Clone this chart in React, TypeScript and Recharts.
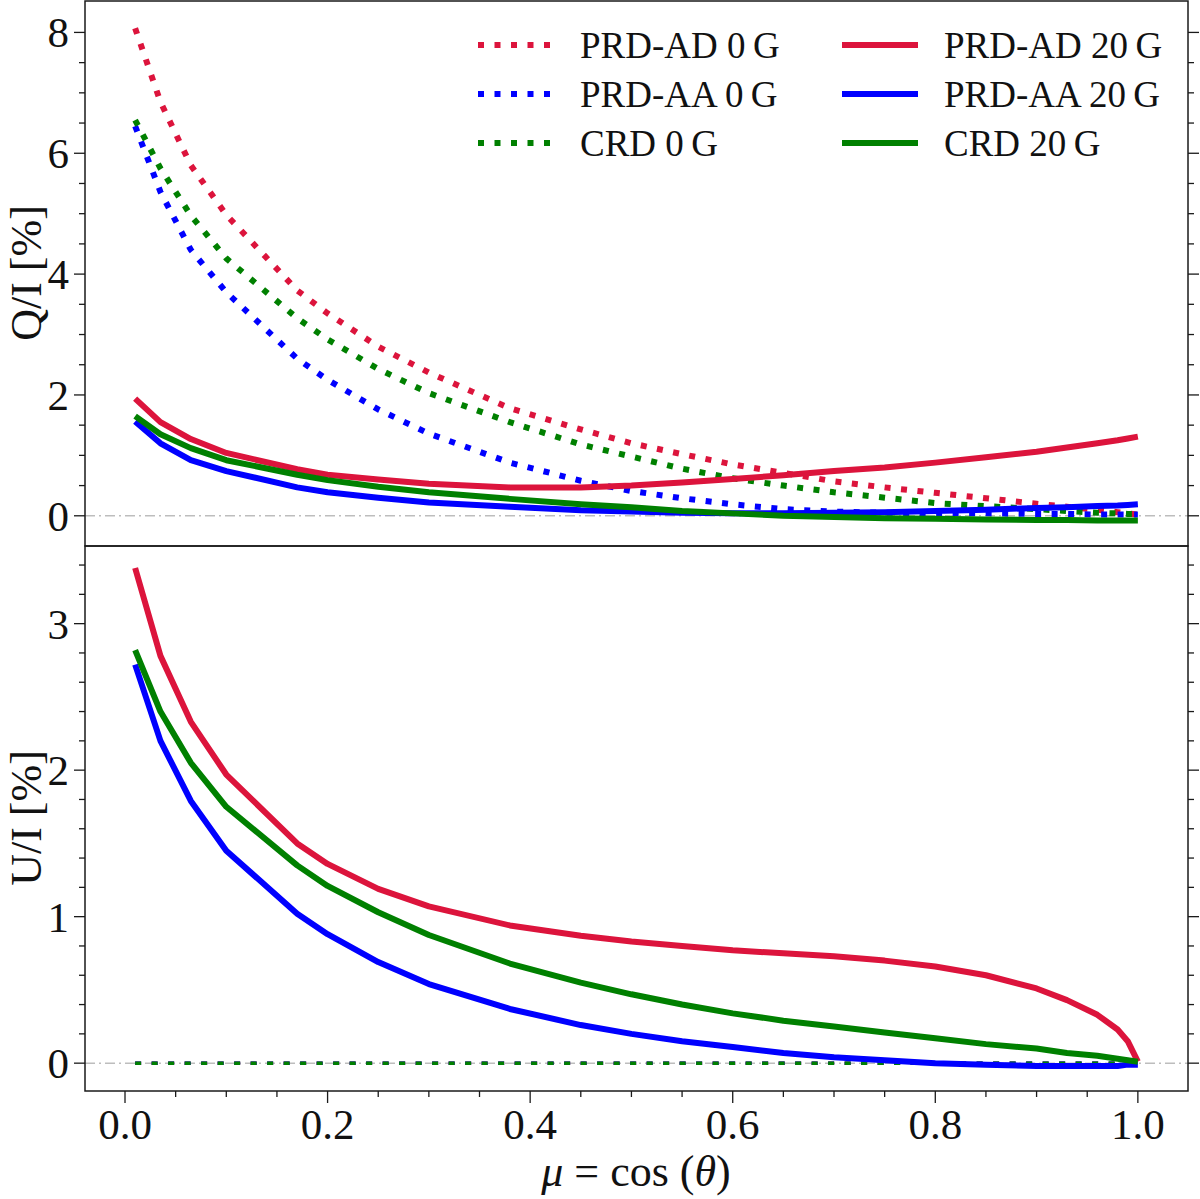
import { LineChart, Line, XAxis, YAxis, ReferenceLine } from "recharts";

// mu = cos(theta) grid
const mu = [0.01, 0.035, 0.065, 0.1, 0.17, 0.2, 0.25, 0.3, 0.38, 0.45, 0.5, 0.55, 0.6, 0.65, 0.7, 0.75, 0.8, 0.85, 0.9, 0.93, 0.96, 0.98, 0.99, 1.0];

// Q/I [%]
const qPrdAd0 = [8.07, 6.85, 5.8, 4.98, 3.73, 3.35, 2.8, 2.37, 1.78, 1.43, 1.2, 1.02, 0.85, 0.71, 0.57, 0.47, 0.38, 0.29, 0.2, 0.15, 0.1, 0.06, 0.04, 0.02];
const qPrdAa0 = [6.45, 5.36, 4.4, 3.7, 2.6, 2.25, 1.76, 1.36, 0.88, 0.58, 0.41, 0.29, 0.19, 0.11, 0.07, 0.05, 0.04, 0.04, 0.03, 0.03, 0.02, 0.02, 0.02, 0.02];
const qCrd0 = [6.55, 5.75, 4.97, 4.26, 3.27, 2.92, 2.43, 2.03, 1.55, 1.18, 0.98, 0.78, 0.62, 0.5, 0.39, 0.3, 0.21, 0.16, 0.11, 0.08, 0.05, 0.04, 0.03, 0.03];
const qPrdAd20 = [1.94, 1.55, 1.27, 1.04, 0.77, 0.68, 0.6, 0.53, 0.47, 0.47, 0.5, 0.55, 0.61, 0.67, 0.74, 0.8, 0.88, 0.97, 1.06, 1.13, 1.2, 1.25, 1.28, 1.31];
const qPrdAa20 = [1.56, 1.2, 0.92, 0.74, 0.47, 0.39, 0.3, 0.22, 0.15, 0.09, 0.07, 0.05, 0.04, 0.04, 0.05, 0.06, 0.08, 0.1, 0.13, 0.14, 0.16, 0.17, 0.18, 0.19];
const qCrd20 = [1.65, 1.35, 1.12, 0.92, 0.68, 0.59, 0.48, 0.39, 0.28, 0.19, 0.14, 0.08, 0.04, 0.0, -0.02, -0.04, -0.05, -0.06, -0.07, -0.07, -0.08, -0.08, -0.08, -0.08];

// U/I [%]
const uZero = [0, 0, 0, 0, 0, 0, 0, 0, 0, 0, 0, 0, 0, 0, 0, 0, 0, 0, 0, 0, 0, 0, 0, 0];
const uPrdAd20 = [3.38, 2.78, 2.33, 1.97, 1.5, 1.36, 1.19, 1.07, 0.94, 0.87, 0.83, 0.8, 0.77, 0.75, 0.73, 0.7, 0.66, 0.6, 0.51, 0.43, 0.33, 0.23, 0.15, 0.01];
const uPrdAa20 = [2.72, 2.2, 1.79, 1.45, 1.02, 0.88, 0.69, 0.54, 0.37, 0.26, 0.2, 0.15, 0.11, 0.07, 0.04, 0.02, 0.0, -0.01, -0.02, -0.02, -0.02, -0.02, -0.01, -0.01];
const uCrd20 = [2.82, 2.4, 2.05, 1.75, 1.35, 1.21, 1.03, 0.875, 0.68, 0.55, 0.47, 0.4, 0.34, 0.29, 0.25, 0.21, 0.17, 0.13, 0.1, 0.07, 0.05, 0.03, 0.02, 0.01];

const xTicks = [0, 0.05, 0.1, 0.15, 0.2, 0.25, 0.3, 0.35, 0.4, 0.45, 0.5, 0.55, 0.6, 0.65, 0.7, 0.75, 0.8, 0.85, 0.9, 0.95, 1.0];
const qTicks = [0, 0.5, 1, 1.5, 2, 2.5, 3, 3.5, 4, 4.5, 5, 5.5, 6, 6.5, 7, 7.5, 8];
const uTicks = [0, 0.2, 0.4, 0.6, 0.8, 1, 1.2, 1.4, 1.6, 1.8, 2, 2.2, 2.4, 2.6, 2.8, 3, 3.2, 3.4];

const RED = "#dc143c";
const BLUE = "#0000ff";
const GREEN = "#008000";
const INK = "#1a1a1a";
const FONT = "'Liberation Serif', 'DejaVu Serif', serif";

const xDomain = [-0.0395, 1.0495];
const qDomain = [-0.5, 8.52];
const uDomain = [-0.19, 3.53];

const qData = mu.map((m, i) => ({
  mu: m,
  ad0: qPrdAd0[i],
  aa0: qPrdAa0[i],
  crd0: qCrd0[i],
  ad20: qPrdAd20[i],
  aa20: qPrdAa20[i],
  crd20: qCrd20[i],
}));

const uData = mu.map((m, i) => ({
  mu: m,
  ad0: uZero[i],
  aa0: uZero[i],
  crd0: uZero[i],
  ad20: uPrdAd20[i],
  aa20: uPrdAa20[i],
  crd20: uCrd20[i],
}));

const series = [
  { key: "ad0", name: "PRD-AD 0\u2009G", color: RED, dotted: true },
  { key: "aa0", name: "PRD-AA 0\u2009G", color: BLUE, dotted: true },
  { key: "crd0", name: "CRD 0\u2009G", color: GREEN, dotted: true },
  { key: "ad20", name: "PRD-AD 20\u2009G", color: RED, dotted: false },
  { key: "aa20", name: "PRD-AA 20\u2009G", color: BLUE, dotted: false },
  { key: "crd20", name: "CRD 20\u2009G", color: GREEN, dotted: false },
];

const isMajor = (v: number, step: number) => Math.abs(v / step - Math.round(v / step)) < 1e-6;

const leftTick = (step: number) => (props: any) => {
  const { x, y, payload } = props;
  const major = isMajor(payload.value, step);
  return (
    <g>
      <line x1={x} x2={x - (major ? 11 : 6)} y1={y} y2={y} stroke={INK} strokeWidth={1.3} />
      {major && (
        <text x={x - 16} y={y} dy="0.35em" textAnchor="end" fontSize={43} fontFamily={FONT} fill="#111">
          {payload.value}
        </text>
      )}
    </g>
  );
};

const rightTick = (step: number) => (props: any) => {
  const { x, y, payload } = props;
  const major = isMajor(payload.value, step);
  return <line x1={x} x2={x + (major ? 11 : 6)} y1={y} y2={y} stroke={INK} strokeWidth={1.3} />;
};

const bottomTick = (props: any) => {
  const { x, y, payload } = props;
  const major = isMajor(payload.value, 0.2);
  return (
    <g>
      <line x1={x} x2={x} y1={y} y2={y + (major ? 12 : 6)} stroke={INK} strokeWidth={1.3} />
      {major && (
        <text x={x} y={y + 48} textAnchor="middle" fontSize={43} fontFamily={FONT} fill="#111">
          {payload.value.toFixed(1)}
        </text>
      )}
    </g>
  );
};

const renderLines = (thinZero: boolean) =>
  series.map((s) => (
    <Line
      key={s.key}
      type="linear"
      dataKey={s.key}
      name={s.name}
      stroke={s.color}
      strokeWidth={s.dotted ? (thinZero ? 3.5 : 6) : 6}
      strokeDasharray={s.dotted ? "6 10.5" : undefined}
      strokeLinejoin="round"
      dot={false}
      activeDot={false}
      isAnimationActive={false}
    />
  ));

const Legend6 = () => {
  const rows = [45, 94, 143];
  return (
    <g>
      {series.map((s, i) => {
        const col = i < 3 ? 0 : 1;
        const y = rows[i % 3];
        const x1 = col === 0 ? 478 : 842;
        const tx = col === 0 ? 580 : 944;
        return (
          <g key={s.key}>
            <line
              x1={x1}
              x2={x1 + 76}
              y1={y}
              y2={y}
              stroke={s.color}
              strokeWidth={6}
              strokeDasharray={s.dotted ? "6 10.5" : undefined}
            />
            <text x={tx} y={y + 12.5} fontSize={37} fontFamily={FONT} fill="#111">
              {s.name}
            </text>
          </g>
        );
      })}
    </g>
  );
};

export default function App() {
  return (
    <div style={{ position: "absolute", left: 0, top: 0, width: 1200, height: 1199, background: "#fff" }}>
      <div style={{ position: "absolute", left: 0, top: 0 }}>
        <LineChart width={1200} height={546} data={qData} margin={{ top: 1, right: 0, bottom: 0, left: 0 }}>
          <XAxis type="number" dataKey="mu" domain={xDomain} allowDataOverflow hide />
          <YAxis
            type="number"
            domain={qDomain}
            allowDataOverflow
            ticks={qTicks}
            interval={0}
            width={85}
            tickSize={0}
            tickMargin={0}
            tickLine={false}
            axisLine={false}
            tick={leftTick(2)}
          />
          <YAxis
            yAxisId="r"
            orientation="right"
            type="number"
            domain={qDomain}
            allowDataOverflow
            ticks={qTicks}
            interval={0}
            width={12}
            tickSize={0}
            tickMargin={0}
            tickLine={false}
            axisLine={false}
            tick={rightTick(2)}
          />
          <ReferenceLine y={0} stroke="#bdbdbd" strokeWidth={1.5} strokeDasharray="10 4 2 4" />
          {renderLines(false)}
        </LineChart>
      </div>
      <div style={{ position: "absolute", left: 0, top: 546 }}>
        <LineChart width={1200} height={653} data={uData} margin={{ top: 0, right: 0, bottom: 0, left: 0 }}>
          <XAxis
            type="number"
            dataKey="mu"
            domain={xDomain}
            allowDataOverflow
            ticks={xTicks}
            interval={0}
            height={108}
            tickSize={0}
            tickMargin={0}
            tickLine={false}
            axisLine={false}
            tick={bottomTick}
          />
          <YAxis
            type="number"
            domain={uDomain}
            allowDataOverflow
            ticks={uTicks}
            interval={0}
            width={85}
            tickSize={0}
            tickMargin={0}
            tickLine={false}
            axisLine={false}
            tick={leftTick(1)}
          />
          <YAxis
            yAxisId="r"
            orientation="right"
            type="number"
            domain={uDomain}
            allowDataOverflow
            ticks={uTicks}
            interval={0}
            width={12}
            tickSize={0}
            tickMargin={0}
            tickLine={false}
            axisLine={false}
            tick={rightTick(1)}
          />
          <ReferenceLine y={0} stroke="#bdbdbd" strokeWidth={1.5} strokeDasharray="10 4 2 4" />
          {renderLines(true)}
        </LineChart>
      </div>
      <svg
        width={1200}
        height={1199}
        style={{ position: "absolute", left: 0, top: 0, pointerEvents: "none" }}
      >
        <rect x={85} y={1} width={1103} height={545} fill="none" stroke={INK} strokeWidth={1.5} />
        <rect x={85} y={546} width={1103} height={545} fill="none" stroke={INK} strokeWidth={1.5} />
        <Legend6 />
        <text
          x={41}
          y={273}
          transform="rotate(-90 41 273)"
          textAnchor="middle"
          fontSize={44}
          fontFamily={FONT}
          fill="#111"
        >
          Q/I [%]
        </text>
        <text
          x={41}
          y={818}
          transform="rotate(-90 41 818)"
          textAnchor="middle"
          fontSize={44}
          fontFamily={FONT}
          fill="#111"
        >
          U/I [%]
        </text>
        <text x={636} y={1186} textAnchor="middle" fontSize={44} fontFamily={FONT} fill="#111">
          <tspan fontStyle="italic">μ</tspan>
          <tspan> = cos (</tspan>
          <tspan fontStyle="italic">θ</tspan>
          <tspan>)</tspan>
        </text>
      </svg>
    </div>
  );
}
